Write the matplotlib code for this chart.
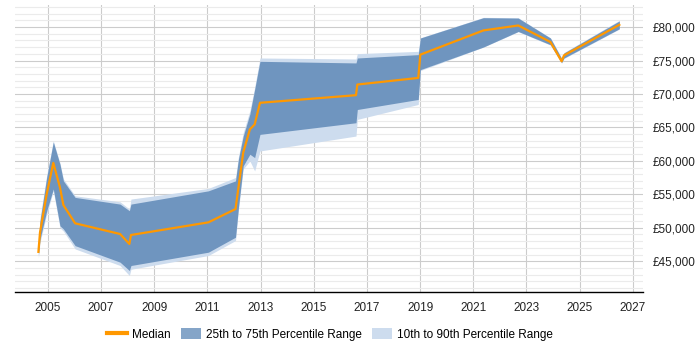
import matplotlib
matplotlib.use("Agg")
import matplotlib.pyplot as plt
from matplotlib.lines import Line2D
from matplotlib.patches import Patch
from matplotlib.ticker import FuncFormatter, MultipleLocator

plt.rcParams['font.family'] = ['Liberation Sans', 'DejaVu Sans']

# decimal years of each sample
years = [2004.65, 2004.71, 2004.96, 2005.21, 2005.46, 2005.59, 2006.03, 2007.72,
         2008.07, 2008.13, 2011.04, 2012.06, 2012.17, 2012.35, 2012.60, 2012.78,
         2012.98, 2016.59, 2016.64, 2018.93, 2019.01, 2021.38, 2022.69, 2023.90,
         2024.32, 2024.41, 2026.49]
median = [46400, 49300, 55000, 59700, 56030, 53390, 50670, 49070,
          47580, 48920, 50810, 52800, 56000, 61240, 64710, 65450,
          68680, 69820, 71410, 72400, 75880, 79500, 80240, 77770,
          74880, 75770, 80340]
p25 = [45900, 48300, 52500, 55800, 50300, 49820, 47330, 44860,
       43610, 44360, 46350, 48590, 53000, 59260, 60990, 60490,
       63960, 65700, 67680, 69180, 73640, 77020, 79350, 77360,
       74700, 75380, 79750]
p75 = [47100, 51000, 57500, 62820, 59500, 57010, 54540, 53540,
       52550, 53540, 55520, 57010, 60240, 63700, 67000, 70670,
       74880, 74640, 75380, 75880, 78360, 81400, 81340, 78360,
       75300, 76130, 80910]
p10 = [45500, 47800, 52000, 55500, 50000, 49500, 46840, 44360,
       42870, 43800, 45850, 48090, 52600, 58800, 59990, 58500,
       61480, 63710, 66200, 68430, 73500, 77000, 79300, 77300,
       74600, 75300, 79700]
p90 = [47400, 51500, 57800, 63000, 59700, 57300, 54780, 53880,
       52800, 54290, 55880, 57510, 60600, 64200, 67500, 71000,
       75380, 75230, 76030, 76370, 78400, 81450, 81400, 78400,
       75400, 76200, 81000]

tick_years = list(range(2005, 2028, 2))

orange = '#ff9800'
dark = '#6f95bf'
light = '#cddcee'

fig = plt.figure(figsize=(7, 3.5), dpi=100)
ax = fig.add_axes([15 / 700, 1 - 292 / 350, 628 / 700, 287 / 350])

ax.fill_between(years, p10, p90, color=light, linewidth=0, zorder=2)
ax.fill_between(years, p25, p75, color=dark, linewidth=0, zorder=3)
ax.plot(years, median, color=orange, linewidth=1.6, zorder=4)

ax.set_xlim(2003.77, 2027.38)
ax.set_ylim(40400, 83300)
ax.set_xticks(tick_years)
ax.set_xticklabels([str(y) for y in tick_years])
ax.yaxis.set_major_locator(MultipleLocator(5000))
ax.yaxis.set_minor_locator(MultipleLocator(1000))
ax.yaxis.set_major_formatter(FuncFormatter(lambda v, p: '£{:,.0f}'.format(v)))
ax.yaxis.tick_right()

ax.grid(True, which='major', axis='both', color='#cccccc', linewidth=0.8, zorder=0)
ax.grid(True, which='minor', axis='y', color='#ebebeb', linewidth=0.8, zorder=0)
ax.set_axisbelow(True)

for s in ['top', 'left', 'right']:
    ax.spines[s].set_visible(False)
ax.spines['bottom'].set_color('#000000')
ax.spines['bottom'].set_linewidth(1)

ax.tick_params(axis='both', which='both', length=0, labelsize=8.5, colors='#222222')
ax.tick_params(axis='x', pad=7)
ax.tick_params(axis='y', pad=7)

handles = [Line2D([0], [0], color=orange, linewidth=3),
           Patch(facecolor='#85a5c8', edgecolor='none'),
           Patch(facecolor=light, edgecolor='none')]
labels = ['Median', '25th to 75th Percentile Range', '10th to 90th Percentile Range']
fig.legend(handles, labels, loc='center', bbox_to_anchor=(330 / 700, 1 - 334.5 / 350),
           ncol=3, frameon=False, fontsize=8.5, handlelength=1.7, handleheight=1.0,
           handletextpad=0.45, columnspacing=0.85)

fig.savefig('out.png', dpi=100)
